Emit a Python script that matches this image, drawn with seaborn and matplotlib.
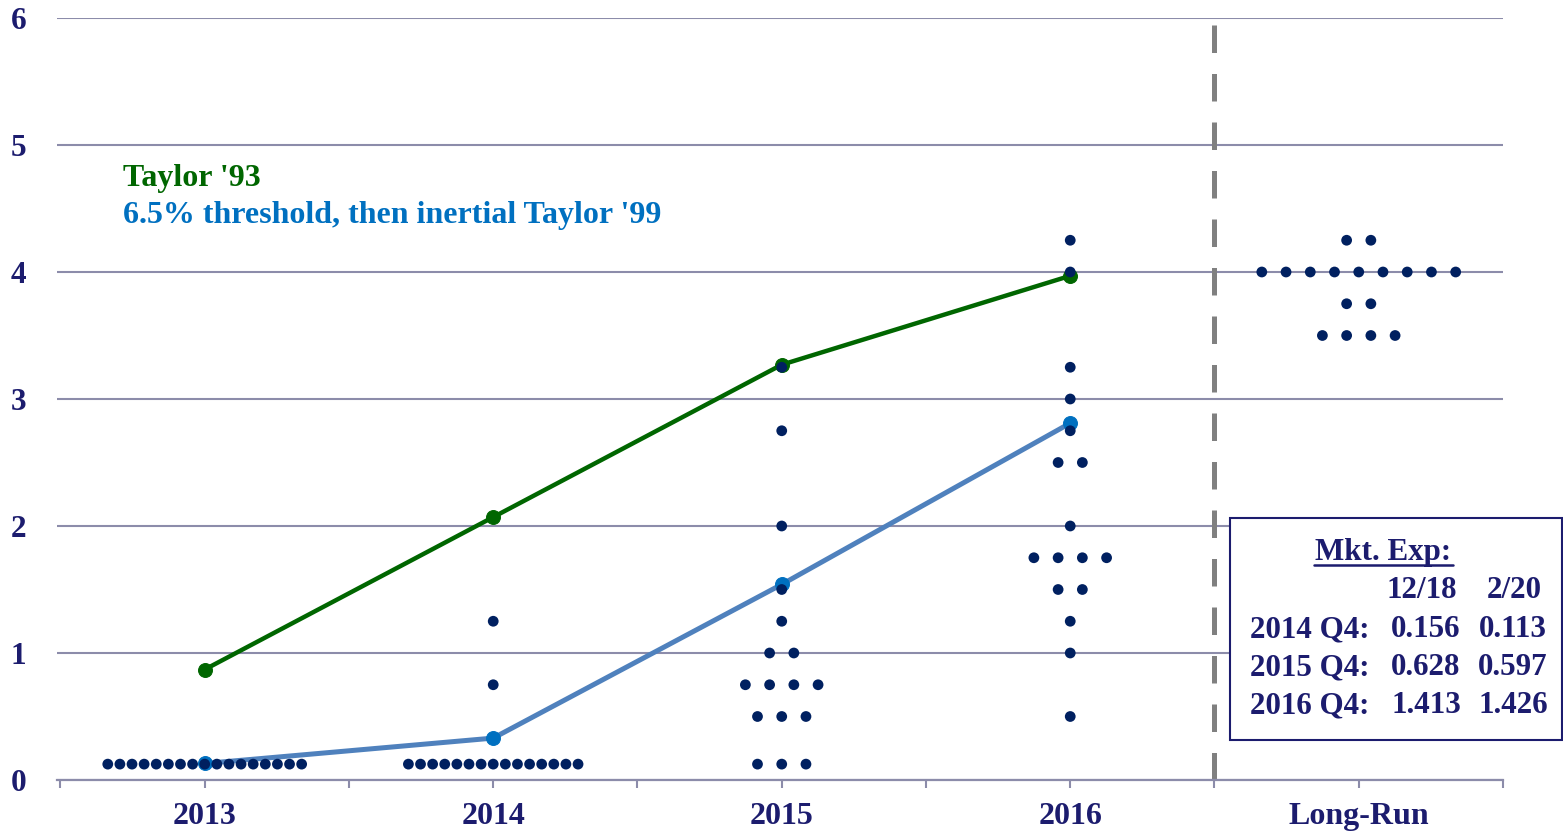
import numpy as np
import pandas as pd
import matplotlib
matplotlib.use("Agg")
import matplotlib.pyplot as plt
import seaborn as sns
from matplotlib.patches import Rectangle
from matplotlib.lines import Line2D

# ---------------- data ----------------
categories = ["2013", "2014", "2015", "2016", "Long-Run"]

# FOMC participants' projections: rate level and number of dots at that level
levels_2013 = [0.125]
counts_2013 = [17]
levels_2014 = [0.125, 0.75, 1.25]
counts_2014 = [15, 1, 1]
levels_2015 = [0.125, 0.5, 0.75, 1.0, 1.25, 1.5, 2.0, 2.75, 3.25]
counts_2015 = [3, 3, 4, 2, 1, 1, 1, 1, 1]
levels_2016 = [0.5, 1.0, 1.25, 1.5, 1.75, 2.0, 2.5, 2.75, 3.0, 3.25, 4.0, 4.25]
counts_2016 = [1, 1, 1, 2, 4, 1, 2, 1, 1, 1, 1, 1]
levels_lr = [3.5, 3.75, 4.0, 4.25]
counts_lr = [4, 2, 9, 2]

line_years = ["2013", "2014", "2015", "2016"]
taylor93 = [0.87, 2.07, 3.27, 3.97]
threshold_taylor99 = [0.13, 0.33, 1.54, 2.81]

yticks = [0, 1, 2, 3, 4, 5, 6]

mkt_title = "Mkt. Exp:"
mkt_dates = ["12/18", "2/20"]
mkt_rows = ["2014 Q4:", "2015 Q4:", "2016 Q4:"]
mkt_1218 = ["0.156", "0.628", "1.413"]
mkt_220 = ["0.113", "0.597", "1.426"]

# ---------------- styles ----------------
NAVY_DOT = "#002060"
NAVY_TXT = "#1c1c6e"
GREEN = "#006600"
BLUE_LINE = "#4f81bd"
BLUE_MARK = "#0070c0"
GRID = "#8c8caa"
DASH = "#808080"
FONT = "Liberation Serif"

W, H = 1563, 833

sns.set_theme(style="white")
plt.rcParams["font.family"] = [FONT, "DejaVu Serif"]
plt.rcParams["font.weight"] = "bold"

# build dot frame
all_levels = [levels_2013, levels_2014, levels_2015, levels_2016, levels_lr]
all_counts = [counts_2013, counts_2014, counts_2015, counts_2016, counts_lr]
rows = []
for ci, (lv, ct) in enumerate(zip(all_levels, all_counts)):
    for level, n in zip(lv, ct):
        step = 0.042 if n > 10 else 0.084
        for k in range(n):
            rows.append({"cat": categories[ci], "x": ci + (k - (n - 1) / 2) * step, "rate": level})
dots = pd.DataFrame(rows)

lines = pd.DataFrame({
    "x": [categories.index(y) for y in line_years],
    "taylor93": taylor93,
    "thr99": threshold_taylor99,
})

fig = plt.figure(figsize=(W / 100, H / 100), dpi=100)
ax = fig.add_axes([57 / W, 1 - 780 / H, (1503 - 57) / W, (780 - 18) / H])

# gridlines
ax.set_ylim(0, 6)
ax.set_xlim(-0.512, 4.488)
ax.set_yticks(yticks)
ax.yaxis.grid(True, color=GRID, lw=1.5, zorder=0)
ax.xaxis.grid(False)
ax.set_axisbelow(True)

# dashed separator
ax.axvline(3.5, ymin=0, ymax=0.995, color=DASH, lw=3.6, ls=(0, (5.5, 4.2)), zorder=1)

# lines
sns.lineplot(data=lines, x="x", y="taylor93", ax=ax, color=GREEN, lw=3.2,
             marker="o", markersize=10, markeredgecolor=GREEN, markerfacecolor=GREEN,
             zorder=2, legend=False)
sns.lineplot(data=lines, x="x", y="thr99", ax=ax, color=BLUE_LINE, lw=3.6,
             marker="o", markersize=10, markeredgecolor=BLUE_MARK, markerfacecolor=BLUE_MARK,
             zorder=2, legend=False)

# dots
sns.scatterplot(data=dots, x="x", y="rate", ax=ax, s=60, color=NAVY_DOT,
                edgecolor="none", linewidth=0, zorder=4, legend=False)

# axes styling
for s in ["left", "top", "right"]:
    ax.spines[s].set_visible(False)
ax.spines["bottom"].set_color(GRID)
ax.spines["bottom"].set_linewidth(1.6)
ax.set_xticks(range(len(categories)))
ax.set_xticklabels(categories)
ax.set_xticks(np.arange(-0.5, len(categories), 1.0), minor=True)
ax.tick_params(axis="x", which="both", length=6, width=1.5, color=GRID,
               direction="out", bottom=True, pad=10)
ax.tick_params(axis="x", labelsize=23, labelcolor=NAVY_TXT)
ax.tick_params(axis="y", length=0, pad=22, labelsize=22.5, labelcolor=NAVY_TXT)
for lab in ax.get_xticklabels() + ax.get_yticklabels():
    lab.set_fontweight("bold")
    lab.set_family(FONT)
ax.set_xlabel("")
ax.set_ylabel("")

# legend texts
fig.text(123 / W, 1 - 186 / H, "Taylor '93", color=GREEN, fontsize=23,
         fontweight="bold", family=FONT, ha="left", va="baseline")
fig.text(123 / W, 1 - 223 / H, "6.5% threshold, then inertial Taylor '99", color=BLUE_MARK,
         fontsize=23, fontweight="bold", family=FONT, ha="left", va="baseline")

# market expectations box
rect = Rectangle((1230 / W, 1 - 740 / H), (1562 - 1230) / W, (740 - 518) / H,
                 transform=fig.transFigure, facecolor="white", edgecolor=NAVY_TXT,
                 lw=1.5, zorder=5)
fig.add_artist(rect)
kw = dict(color=NAVY_TXT, fontsize=22.3, fontweight="bold", family=FONT, va="baseline", zorder=6)
fig.text(1383 / W, 1 - 560 / H, mkt_title, ha="center", **kw)
fig.add_artist(Line2D([1314 / W, 1453 / W], [1 - 565 / H, 1 - 565 / H],
                      transform=fig.transFigure, color=NAVY_TXT, lw=1.8, zorder=6))
fig.text(1422 / W, 1 - 598 / H, mkt_dates[0], ha="center", **kw)
fig.text(1514 / W, 1 - 598 / H, mkt_dates[1], ha="center", **kw)
for i, (r, a, b) in enumerate(zip(mkt_rows, mkt_1218, mkt_220)):
    yb = 637 + i * 38
    fig.text(1250 / W, 1 - yb / H, r, ha="left", **kw)
    fig.text(1426 / W, 1 - yb / H, a, ha="center", **kw)
    fig.text(1513 / W, 1 - yb / H, b, ha="center", **kw)

fig.savefig("out.png", dpi=100)
